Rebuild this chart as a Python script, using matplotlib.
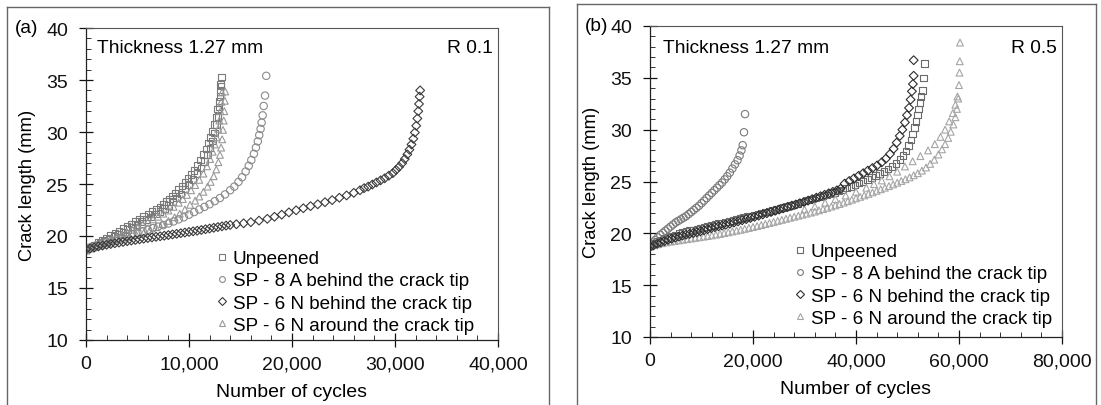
import matplotlib
matplotlib.use("Agg")
import matplotlib.pyplot as plt
from matplotlib.lines import Line2D
from matplotlib.ticker import MultipleLocator, FuncFormatter

plt.rcParams['font.family'] = ['Liberation Sans', 'DejaVu Sans']

# ---------------- data (cycles, crack length mm) ----------------
labels = ["Unpeened", "SP - 8 A behind the crack tip",
          "SP - 6 N behind the crack tip", "SP - 6 N around the crack tip"]

# Panel (a)  R 0.1
a_unpeened = [(0,18.7),(400,18.92),(800,19.14),(1200,19.37),(1600,19.6),(2000,19.82),(2400,20.04),
    (2800,20.26),(3200,20.48),(3600,20.7),(4000,20.93),(4400,21.16),(4800,21.4),(5200,21.63),
    (5600,21.87),(6000,22.1),(6400,22.34),(6800,22.57),(7200,22.81),(7500,23.05),(7800,23.3),
    (8100,23.57),(8400,23.85),(8700,24.15),(9000,24.47),(9300,24.8),(9600,25.15),(9900,25.52),
    (10200,25.9),(10500,26.32),(10800,26.8),(11100,27.3),(11400,27.82),(11650,28.35),(11900,28.95),
    (12100,29.45),(12300,30.05),(12480,30.7),(12640,31.4),(12780,32.2),(12900,33.0),(13000,33.9),
    (13080,34.6),(13150,35.3),
    (0,18.65),(450,18.85),(900,19.07),(1350,19.28),(1800,19.5),(2250,19.71),(2700,19.93),(3150,20.17),
    (3600,20.4),(4050,20.64),(4500,20.88),(4950,21.12),(5400,21.37),(5850,21.6),(6300,21.85),
    (6750,22.1),(7200,22.38),(7600,22.65),(8000,22.95),(8400,23.3),(8800,23.65),(9200,24.05),
    (9600,24.5),(10000,24.95),(10400,25.45),(10800,26.0),(11150,26.55),(11500,27.15),(11800,27.8),
    (12050,28.45),(12280,29.15),(12480,29.9),(12650,30.7),(12800,31.5),(12920,32.4),(13030,33.4),
    (13120,34.4)]
a_sp8a = [(0,18.8),(500,18.95),(1000,19.1),(1500,19.25),(2000,19.4),(2500,19.55),(3000,19.7),
    (3500,19.85),(4000,20.0),(4500,20.15),(5000,20.3),(5500,20.45),(6000,20.6),(6500,20.75),
    (7000,20.9),(7500,21.05),(8000,21.2),(8500,21.4),(9000,21.6),(9500,21.8),(10000,22.05),
    (10500,22.3),(11000,22.55),(11500,22.8),(12000,23.05),(12500,23.35),(13000,23.65),(13500,24.0),
    (14000,24.4),(14400,24.75),(14800,25.2),(15150,25.65),(15500,26.2),(15800,26.75),(16050,27.3),
    (16300,27.9),(16500,28.5),(16680,29.1),(16820,29.7),(16950,30.3),(17050,30.9),(17150,31.6),
    (17250,32.5),(17380,33.5),(17500,35.4)]
a_sp6n_behind = [(0,18.7),(400,18.8),(800,18.9),(1200,19.0),(1600,19.08),(2000,19.16),(2400,19.23),
    (2800,19.3),(3200,19.37),(3600,19.43),(4000,19.5),(4400,19.56),(4800,19.62),(5200,19.68),
    (5600,19.74),(6000,19.8),(6400,19.86),(6800,19.92),(7200,19.97),(7600,20.03),(8000,20.09),
    (8400,20.15),(8800,20.21),(9200,20.27),(9600,20.33),(10000,20.39),(10400,20.45),(10800,20.51),
    (11200,20.58),(11600,20.65),(12000,20.72),(12400,20.79),(12800,20.86),(13200,20.93),(13600,21.0),
    (14000,21.06),(14600,21.13),(15300,21.22),(16000,21.33),(16800,21.48),(17600,21.65),(18300,21.85),
    (19000,22.05),(19700,22.27),(20400,22.47),(21100,22.67),(21800,22.87),(22500,23.05),(23200,23.25),
    (23900,23.45),(24600,23.68),(25300,23.9),(26000,24.15),(26600,24.4),(27000,24.6),(27400,24.75),
    (27800,24.95),(28200,25.15),(28600,25.35),(29000,25.55),(29400,25.8),(29800,26.05),(30100,26.35),
    (30400,26.65),(30700,27.0),(30950,27.4),(31200,27.85),(31400,28.3),(31600,28.8),(31780,29.35),
    (31930,29.95),(32060,30.6),(32170,31.3),(32260,32.0),(32330,32.7),(32390,33.4),(32440,34.0)]
a_sp6n_around = [(0,18.6),(500,18.8),(1000,19.0),(1500,19.2),(2000,19.4),(2500,19.6),(3000,19.85),
    (3500,20.1),(4000,20.35),(4500,20.6),(5000,20.85),(5500,21.1),(6000,21.35),(6500,21.6),
    (7000,21.85),(7500,22.15),(8000,22.45),(8500,22.8),(9000,23.2),(9400,23.55),(9800,23.95),
    (10200,24.4),(10600,24.9),(11000,25.4),(11400,26.0),(11750,26.7),(12050,27.4),(12300,28.1),
    (12500,28.8),(12680,29.5),(12830,30.3),(12950,31.1),(13050,32.0),(13130,32.9),(13200,33.8),
    (0,18.7),(700,18.9),(1400,19.1),(2100,19.3),(2800,19.5),(3500,19.7),(4200,19.9),(4900,20.1),
    (5600,20.3),(6200,20.55),(6800,20.85),(7400,21.15),(8000,21.45),(8600,21.8),(9100,22.15),
    (9600,22.55),(10100,23.0),(10600,23.4),(11000,23.8),(11400,24.25),(11800,24.75),(12100,25.2),
    (12400,25.75),(12650,26.4),(12850,27.1),(13000,27.8),(13120,28.5),(13220,29.3),(13300,30.2),
    (13370,31.1),(13430,32.0),(13480,33.0),(13520,33.9)]

# Panel (b)  R 0.5
b_unpeened = [(0,18.8),(700,19.0),(1400,19.2),(2100,19.35),(2800,19.5),(3500,19.62),(4200,19.74),
    (4900,19.85),(5600,19.96),(6300,20.06),(7000,20.16),(7700,20.25),(8400,20.34),(9100,20.43),
    (9800,20.52),(10500,20.6),(11200,20.68),(11900,20.76),(12600,20.85),(13300,20.93),(14000,21.0),
    (14700,21.08),(15400,21.16),(16100,21.25),(16800,21.34),(17500,21.43),(18200,21.52),(18900,21.6),
    (19600,21.68),(20300,21.77),(21000,21.86),(21700,21.95),(22400,22.04),(23100,22.13),(23800,22.22),
    (24500,22.31),(25200,22.4),(25900,22.5),(26600,22.6),(27300,22.7),(28000,22.8),(28700,22.9),
    (29400,23.0),(30100,23.1),(30800,23.2),(31500,23.3),(32200,23.4),(32900,23.5),(33600,23.6),
    (34300,23.7),(35000,23.82),(35800,23.95),(36600,24.08),(37400,24.2),(38200,24.35),(39000,24.5),
    (39800,24.67),(40600,24.85),(41400,25.02),(42200,25.2),(43000,25.38),(43800,25.56),(44600,25.76),
    (45400,25.97),(46200,26.2),(47000,26.45),(47800,26.75),(48500,27.1),(49100,27.5),(49700,27.95),
    (50200,28.45),(50650,29.0),(51000,29.6),(51350,30.2),(51650,30.8),(51900,31.4),(52150,32.0),
    (52400,32.6),(52600,33.2),(52900,33.8),(53100,35.0),(53300,36.4)]
b_sp8a = [(0,18.8),(500,19.1),(1000,19.35),(1500,19.6),(2000,19.85),(2500,20.05),(3000,20.25),
    (3500,20.45),(4000,20.65),(4500,20.85),(5000,21.05),(5500,21.2),(6000,21.35),(6500,21.5),
    (7000,21.65),(7500,21.85),(8000,22.05),(8500,22.25),(9000,22.45),(9500,22.65),(10000,22.9),
    (10500,23.15),(11000,23.4),(11500,23.65),(12000,23.9),(12500,24.15),(13000,24.4),(13500,24.65),
    (14000,24.9),(14500,25.2),(15000,25.5),(15500,25.85),(16000,26.25),(16500,26.65),(17000,27.05),
    (17400,27.5),(17750,28.0),(18000,28.5),(18250,29.75),(18450,31.5)]
b_sp6n_behind = [(0,18.7),(700,18.85),(1400,19.0),(2100,19.13),(2800,19.25),(3500,19.37),(4200,19.48),
    (4900,19.58),(5600,19.68),(6300,19.78),(7000,19.87),(7700,19.95),(8400,20.03),(9100,20.11),
    (9800,20.2),(10500,20.3),(11200,20.4),(11900,20.5),(12600,20.6),(13300,20.68),(14000,20.75),
    (14700,20.83),(15500,20.93),(16300,21.04),(17100,21.15),(17900,21.26),(18700,21.37),(19500,21.48),
    (20300,21.59),(21100,21.7),(21900,21.82),(22700,21.94),(23500,22.06),(24300,22.18),(25100,22.3),
    (25900,22.42),(26700,22.54),(27500,22.66),(28300,22.78),(29100,22.9),(29900,23.03),(30700,23.16),
    (31500,23.3),(32300,23.44),(33100,23.58),(33900,23.72),(34700,23.86),(35500,24.0),(36300,24.15),
    (37000,24.3),(37800,24.8),(38700,25.05),(39600,25.3),(40500,25.55),(41400,25.8),(42300,26.05),
    (43200,26.3),(44100,26.55),(45000,26.85),(45800,27.2),(46600,27.65),(47300,28.15),(47900,28.75),
    (48500,29.4),(49000,30.0),(49500,30.7),(49900,31.4),(50300,32.1),(50600,32.9),(50850,33.7),
    (51050,34.4),(51200,35.2),(51200,36.7)]
b_sp6n_around = [(0,18.7),(800,18.85),(1600,18.95),(2400,19.05),(3200,19.13),(4000,19.2),(4800,19.26),
    (5600,19.32),(6400,19.38),(7200,19.44),(8000,19.5),(8800,19.56),(9600,19.62),(10400,19.68),
    (11200,19.74),(12000,19.8),(12800,19.87),(13600,19.94),(14400,20.02),(15200,20.1),(16000,20.18),
    (16800,20.26),(17600,20.34),(18400,20.43),(19200,20.52),(20000,20.61),(20800,20.7),(21600,20.8),
    (22400,20.9),(23200,21.0),(24000,21.1),(24800,21.2),(25600,21.3),(26400,21.4),(27200,21.5),
    (28000,21.6),(28800,21.7),(29600,21.8),(30400,21.9),(31200,22.0),(32000,22.1),(32800,22.22),
    (33600,22.34),(34400,22.46),(35200,22.58),(36000,22.7),(36800,22.83),(37600,22.96),(38400,23.1),
    (39200,23.24),(40000,23.38),(40800,23.52),(41600,23.66),(42400,23.8),(43200,23.95),(44000,24.1),
    (44800,24.25),(45600,24.4),(46400,24.56),(47200,24.72),(48000,24.88),(48800,25.05),(49600,25.22),
    (50400,25.4),(51200,25.6),(52000,25.8),(52800,26.05),(53600,26.35),(54400,26.7),(55200,27.1),
    (56000,27.6),(56700,28.1),(57300,28.6),(57900,29.2),(58400,29.8),(58900,30.5),(59300,31.2),
    (59600,32.0),(59850,33.0),(60000,34.3),(60100,35.5),(60150,36.6),(60200,38.4),
    (30000,22.3),(32000,22.6),(34000,22.95),(36000,23.3),(38000,23.65),(40000,24.0),(42000,24.4),
    (43500,24.75),(45000,25.1),(46500,25.5),(48000,25.95),(49500,26.45),(51000,26.95),(52500,27.45),
    (54000,28.0),(55300,28.6),(56400,29.3),(57300,30.0),(58100,30.8),(58800,31.6),(59300,32.4),
    (59700,33.2)]

a_xticks = [0, 10000, 20000, 30000, 40000]
b_xticks = [0, 20000, 40000, 60000, 80000]
yticks = [10, 15, 20, 25, 30, 35, 40]

# ---------------- layout ----------------
W, H = 1101, 406
def rect(l, t, r, b):
    return [l / W, 1 - b / H, (r - l) / W, (b - t) / H]

fig = plt.figure(figsize=(W / 100, H / 100), dpi=100)
fig.patch.set_facecolor('white')

FS_TICK = 14
FS_LAB = 14
FS_LEG = 13.6
FS_TXT = 13.8
markers = ['s', 'o', 'D', '^']
sizes = [22, 28, 20, 24]

def panel(ax, series, colors, xmax, xticks, xminor, leg_anchor):
    order = [0, 3, 1, 2]
    for i in order:
        pts = series[i]
        xs = [p[0] for p in pts]
        ys = [p[1] for p in pts]
        ax.scatter(xs, ys, marker=markers[i], s=sizes[i], facecolors='none',
                   edgecolors=colors[i], linewidths=0.8, zorder=2 + (i == 2))
    handles = [Line2D([], [], linestyle='none', marker=markers[i], markersize=4.2 if i != 2 else 3.8,
                      markerfacecolor='none', markeredgecolor=colors[i], markeredgewidth=0.8)
               for i in range(4)]
    ax.set_xlim(0, xmax)
    ax.set_ylim(10, 40)
    ax.set_xticks(xticks)
    ax.set_yticks(yticks)
    ax.xaxis.set_minor_locator(MultipleLocator(xminor))
    ax.yaxis.set_minor_locator(MultipleLocator(1))
    ax.xaxis.set_major_formatter(FuncFormatter(lambda v, p: f"{int(v):,}"))
    ax.tick_params(which='major', direction='inout', length=10, width=0.9, labelsize=FS_TICK, colors='#111111')
    ax.tick_params(axis='y', which='major', pad=8)
    ax.tick_params(axis='x', which='major', pad=6)
    ax.tick_params(which='minor', direction='in', length=3.5, width=0.7, colors='#333333')
    ax.tick_params(top=False, right=False, which='both')
    for s in ['left', 'bottom']:
        ax.spines[s].set_color('#222222')
        ax.spines[s].set_linewidth(0.9)
    for s in ['top', 'right']:
        ax.spines[s].set_color('#555555')
        ax.spines[s].set_linewidth(0.8)
    ax.set_xlabel("Number of cycles", fontsize=FS_LAB, labelpad=8)
    ax.set_ylabel("Crack length (mm)", fontsize=13.2, labelpad=7)
    ax.legend(handles, labels, loc='lower left', bbox_to_anchor=leg_anchor, frameon=False,
              fontsize=FS_LEG, handlelength=0.5, handletextpad=0.3, labelspacing=0.26,
              borderpad=0, borderaxespad=0)
    return ax

axa = fig.add_axes(rect(86, 29, 498, 341))
panel(axa, [a_unpeened, a_sp8a, a_sp6n_behind, a_sp6n_around],
      ['#7a7a7a', '#8a8a8a', '#3a3a3a', '#9a9a9a'], 40000, a_xticks, 2000, (0.319, 0.02))
axa.text(0.026, 0.922, "Thickness 1.27 mm", transform=axa.transAxes, fontsize=FS_TXT, va='baseline', ha='left')
axa.text(0.988, 0.922, "R 0.1", transform=axa.transAxes, fontsize=FS_TXT, va='baseline', ha='right')

axb = fig.add_axes(rect(650, 27, 1062, 338))
panel(axb, [b_unpeened, b_sp8a, b_sp6n_behind, b_sp6n_around],
      ['#6a6a6a', '#7a7a7a', '#2e2e2e', '#a5a5a5'], 80000, b_xticks, 4000, (0.353, 0.033))
axb.text(0.032, 0.916, "Thickness 1.27 mm", transform=axb.transAxes, fontsize=FS_TXT, va='baseline', ha='left')
axb.text(0.987, 0.916, "R 0.5", transform=axb.transAxes, fontsize=FS_TXT, va='baseline', ha='right')

fig.text(15 / W, 1 - 33 / H, "(a)", fontsize=FS_TXT, va='baseline', ha='left')
fig.text(585 / W, 1 - 31 / H, "(b)", fontsize=FS_TXT, va='baseline', ha='left')

# panel frames
def fline(x0, y0, x1, y1):
    fig.add_artist(Line2D([x0 / W, x1 / W], [1 - y0 / H, 1 - y1 / H], transform=fig.transFigure,
                          color='#666666', linewidth=1.0))
fline(7, 8, 549, 8); fline(7, 8, 7, 406); fline(549, 8, 549, 406)
fline(577, 5, 1096, 5); fline(577, 5, 577, 406); fline(1096, 5, 1096, 406)

fig.savefig("out.png", dpi=100)
